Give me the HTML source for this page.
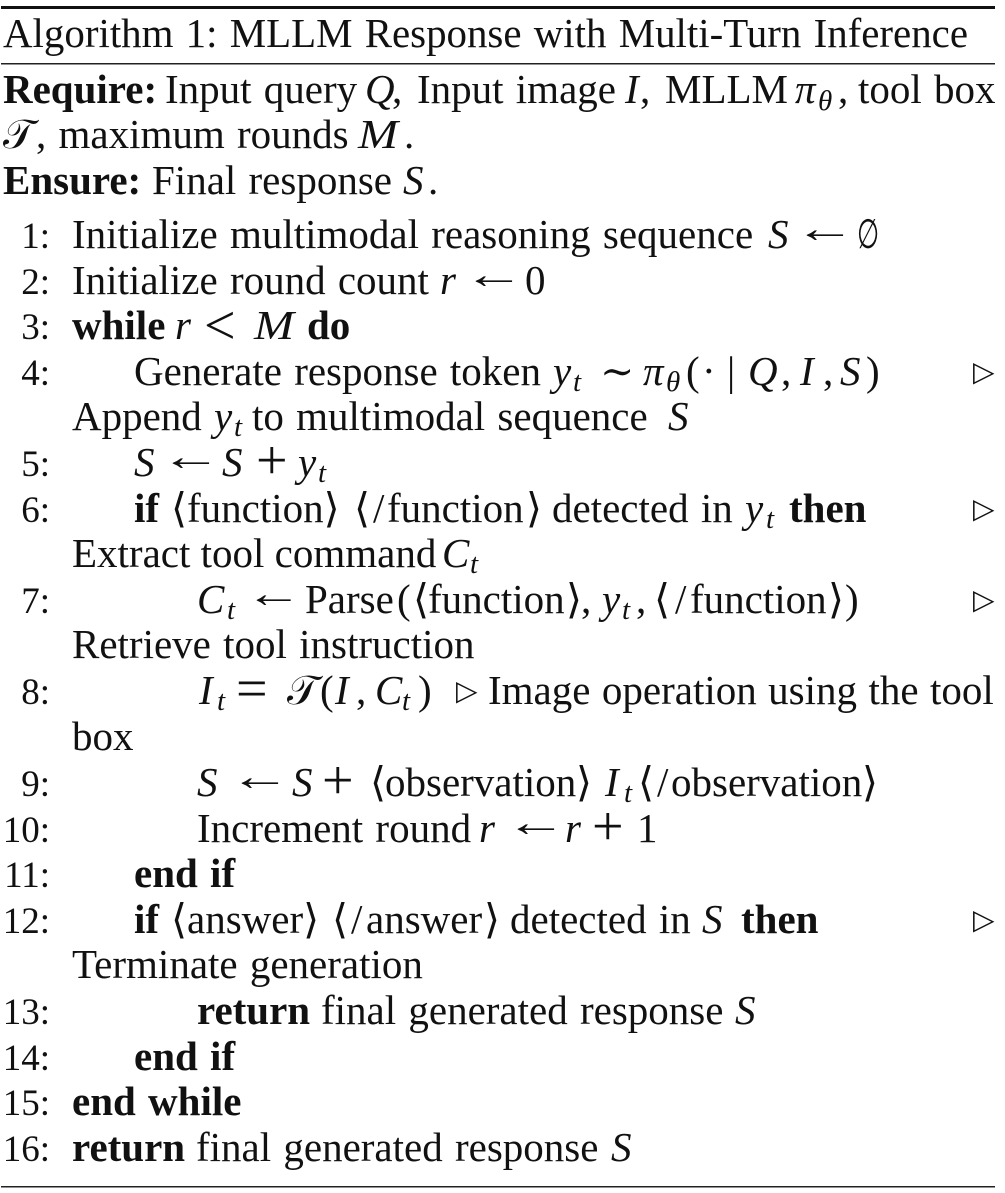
<!DOCTYPE html>
<html lang="en">
<head>
<meta charset="utf-8">
<title>Algorithm 1</title>
<style>
html,body{margin:0;padding:0;background:#fff;width:1005px;height:1193px;overflow:hidden}
svg{display:block}
text{font-family:"Liberation Serif","DejaVu Serif",serif;font-size:41px;fill:#111;white-space:pre;word-spacing:2px}
.b{font-weight:bold}
.i{font-style:italic}
.s{font-size:29px}
.n{text-anchor:end;font-size:37px}
.t{font-family:"DejaVu Sans",sans-serif;font-size:28px}
.p{font-size:56px;font-weight:normal}
</style>
</head>
<body>
<svg width="1005" height="1193" viewBox="0 0 1005 1193">
<rect x="1" y="6" width="994" height="3" fill="#111"/>
<rect x="1" y="63" width="994" height="1.5" fill="#222"/>
<rect x="1" y="1186" width="994" height="1.5" fill="#222"/>

<g transform="translate(0 1)">
<text x="3" y="46" textLength="965" lengthAdjust="spacingAndGlyphs">Algorithm 1: MLLM Response with Multi-Turn Inference</text>

<text y="102"><tspan x="3" class="b">Require:</tspan><tspan x="165">Input query</tspan><tspan x="365" class="i">Q</tspan><tspan x="392">,</tspan><tspan x="417">Input image</tspan><tspan x="625" class="i">I</tspan><tspan x="640">,</tspan><tspan x="665">MLLM</tspan><tspan x="795" class="i">π</tspan><tspan x="818" dy="7" class="i s">θ</tspan><tspan x="838" dy="-7">,</tspan><tspan x="858">tool box</tspan></text>
<text y="147"><tspan x="3">𝒯</tspan><tspan x="36">, maximum rounds</tspan><tspan x="404">.</tspan></text>
<text x="358" y="147" class="i" textLength="40" lengthAdjust="spacingAndGlyphs">M</text>
<text y="193"><tspan x="3" class="b">Ensure:</tspan><tspan x="152">Final response</tspan><tspan x="403" class="i">S</tspan><tspan x="428">.</tspan></text>

<text x="50" y="247" class="n">1:</text>
<text y="247"><tspan x="72">Initialize multimodal reasoning sequence</tspan><tspan x="768" class="i">S</tspan></text>
<text transform="translate(794 241) scale(1.5 1)">←</text>
<text transform="translate(857 247) scale(0.62 1)">∅</text>

<text x="50" y="293" class="n">2:</text>
<text y="293"><tspan x="72">Initialize round count</tspan><tspan x="440" class="i">r</tspan><tspan x="525">0</tspan></text>
<text transform="translate(463 287) scale(1.5 1)">←</text>

<text x="50" y="338" class="n">3:</text>
<text y="338"><tspan x="72" class="b">while</tspan><tspan x="175" class="i">r</tspan><tspan x="307" class="b">do</tspan></text>
<text x="204" y="343" class="p">&lt;</text>
<text x="254" y="338" class="i" textLength="40" lengthAdjust="spacingAndGlyphs">M</text>

<text x="50" y="384" class="n">4:</text>
<text y="384"><tspan x="134">Generate response token</tspan><tspan x="553" class="i">y</tspan><tspan x="573" dy="6" class="i s">t</tspan><tspan x="600" dy="-6">∼</tspan><tspan x="643" class="i">π</tspan><tspan x="666" dy="6" class="i s">θ</tspan><tspan x="686" dy="-6">(</tspan><tspan x="702">·</tspan><tspan x="727">|</tspan><tspan x="748" class="i">Q</tspan><tspan x="781">,</tspan><tspan x="800" class="i">I</tspan><tspan x="823">,</tspan><tspan x="840" class="i">S</tspan><tspan x="866">)</tspan></text>
<text x="973" y="380" class="t">▷</text>
<text y="429"><tspan x="72">Append</tspan><tspan x="214" class="i">y</tspan><tspan x="234" dy="6" class="i s">t</tspan><tspan x="252" dy="-6">to multimodal sequence</tspan><tspan x="668" class="i">S</tspan></text>

<text x="50" y="475" class="n">5:</text>
<text y="475"><tspan x="134" class="i">S</tspan><tspan x="222" class="i">S</tspan><tspan x="298" class="i">y</tspan><tspan x="318" dy="6" class="i s">t</tspan></text>
<text transform="translate(160 469) scale(1.5 1)">←</text>
<text x="256" y="478" class="p">+</text>

<text x="50" y="521" class="n">6:</text>
<text y="521"><tspan x="134" class="b">if</tspan><tspan x="171">⟨function⟩</tspan><tspan x="354">⟨</tspan><tspan x="373">/</tspan><tspan x="387">function</tspan><tspan x="526">⟩</tspan><tspan x="552">detected in</tspan><tspan x="745" class="i">y</tspan><tspan x="766" dy="6" class="i s">t</tspan><tspan x="789" dy="-6" class="b">then</tspan></text>
<text x="973" y="517" class="t">▷</text>
<text y="566" style="word-spacing:0"><tspan x="72">Extract tool command</tspan><tspan x="442" class="i">C</tspan><tspan x="470" dy="6" class="i s">t</tspan></text>

<text x="50" y="612" class="n">7:</text>
<text y="612"><tspan x="197" class="i">C</tspan><tspan x="227" dy="6" class="i s">t</tspan><tspan x="305" dy="-6">Parse</tspan><tspan x="397">(</tspan><tspan x="413">⟨</tspan><tspan x="428">function</tspan><tspan x="566">⟩</tspan><tspan x="581">,</tspan><tspan x="602" class="i">y</tspan><tspan x="622" dy="6" class="i s">t</tspan><tspan x="636" dy="-6">,</tspan><tspan x="654">⟨</tspan><tspan x="675">/</tspan><tspan x="690">function</tspan><tspan x="828">⟩</tspan><tspan x="845">)</tspan></text>
<text transform="translate(245 606) scale(1.4 1)">←</text>
<text x="973" y="608" class="t">▷</text>
<text x="72" y="657">Retrieve tool instruction</text>

<text x="50" y="703" class="n">8:</text>
<text y="703"><tspan x="199" class="i">I</tspan><tspan x="217" dy="6" class="i s">t</tspan><tspan x="287" dy="-6">𝒯</tspan><tspan x="320">(</tspan><tspan x="335" class="i">I</tspan><tspan x="356">,</tspan><tspan x="375" class="i">C</tspan><tspan x="402" dy="6" class="i s">t</tspan><tspan x="418" dy="-6">)</tspan></text>
<text x="236" y="706" class="p">=</text>
<text x="456" y="699" class="t">▷</text>
<text x="488" y="703" style="word-spacing:1.2px">Image operation using the tool</text>
<text x="72" y="749">box</text>

<text x="50" y="795" class="n">9:</text>
<text y="795"><tspan x="197" class="i">S</tspan><tspan x="292" class="i">S</tspan><tspan x="370">⟨</tspan><tspan x="385">observation</tspan><tspan x="576">⟩</tspan><tspan x="605" class="i">I</tspan><tspan x="624" dy="6" class="i s">t</tspan><tspan x="638" dy="-6">⟨</tspan><tspan x="657">/</tspan><tspan x="671">observation</tspan><tspan x="862">⟩</tspan></text>
<text transform="translate(229 789) scale(1.5 1)">←</text>
<text x="322" y="798" class="p">+</text>

<text x="50" y="841" class="n">10:</text>
<text y="841"><tspan x="197">Increment round</tspan><tspan x="479" class="i">r</tspan><tspan x="565" class="i">r</tspan><tspan x="637">1</tspan></text>
<text transform="translate(505 835) scale(1.5 1)">←</text>
<text x="592" y="844" class="p">+</text>

<text x="50" y="886" class="n">11:</text>
<text x="134" y="886" class="b">end if</text>

<text x="50" y="932" class="n">12:</text>
<text y="932"><tspan x="134" class="b">if</tspan><tspan x="171">⟨answer⟩</tspan><tspan x="332">⟨</tspan><tspan x="351">/</tspan><tspan x="366">answer</tspan><tspan x="484">⟩</tspan><tspan x="510">detected in</tspan><tspan x="702" class="i">S</tspan><tspan x="741" class="b">then</tspan></text>
<text x="973" y="928" class="t">▷</text>
<text x="72" y="977">Terminate generation</text>

<text x="50" y="1023" class="n">13:</text>
<text y="1023"><tspan x="197" class="b">return</tspan><tspan x="321">final generated response</tspan><tspan x="735" class="i">S</tspan></text>

<text x="50" y="1069" class="n">14:</text>
<text x="134" y="1069" class="b">end if</text>

<text x="50" y="1114" class="n">15:</text>
<text x="72" y="1114" class="b">end while</text>

<text x="50" y="1160" class="n">16:</text>
<text y="1160"><tspan x="72" class="b">return</tspan><tspan x="196">final generated response</tspan><tspan x="611" class="i">S</tspan></text>
</g>
</svg>
</body>
</html>
